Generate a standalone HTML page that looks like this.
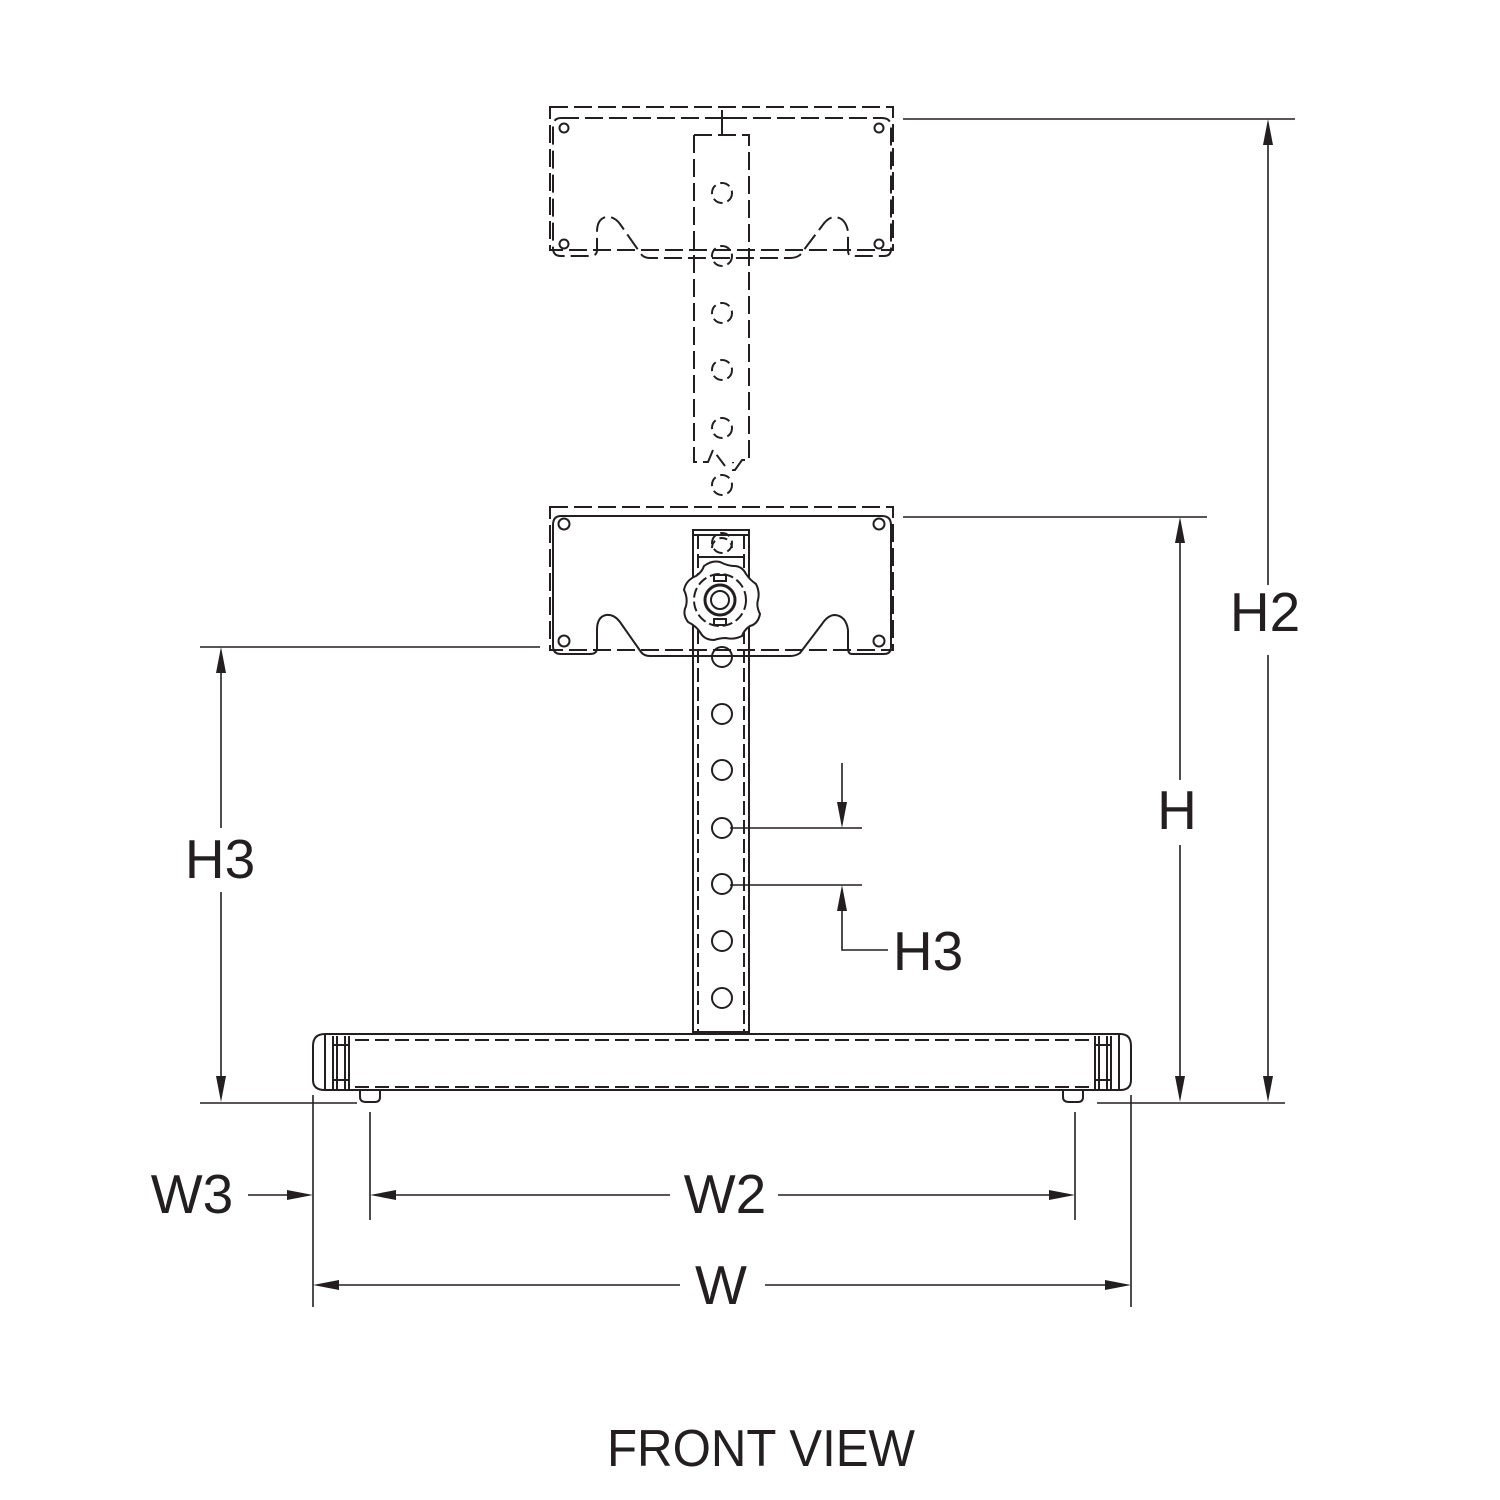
<!DOCTYPE html>
<html><head><meta charset="utf-8"><style>
html,body{margin:0;padding:0;background:#fff;}
svg{display:block;}
text{font-family:"Liberation Sans",sans-serif;fill:#231f20;}
</style></head><body>
<svg width="1500" height="1500" viewBox="0 0 1500 1500" xmlns="http://www.w3.org/2000/svg">
<g fill="none" stroke="#231f20" stroke-width="2">
<g stroke-dasharray="18,6">
<rect x="550" y="107" width="343" height="143"/>
<path d="M561,118 H882 Q891,118 891,127 V249 Q891,256 884,256 H852 Q848,256 848,250 V232 Q846,218 835,217 Q828,217 822,226 L800,255 Q796,258 790,258 H650 Q644,258 641,254 L620,224 Q614,216 606,217 Q597,219 597,232 V250 Q597,256 590,256 H561 Q553,256 553,248 V127 Q553,118 561,118 Z"/>
<path d="M694,135 H749 V460 H742 L735,470 H733 V462 M694,135 V462 H708 L713,450 L725,466"/>
</g>
<g stroke-dasharray="10,5">
<circle cx="722" cy="193" r="10"/><circle cx="722" cy="256" r="10"/><circle cx="722" cy="313" r="10"/><circle cx="722" cy="370" r="10"/><circle cx="722" cy="428" r="10"/><circle cx="722" cy="485" r="10"/><circle cx="722" cy="543" r="10"/>
</g>
<line x1="722" y1="110" x2="722" y2="135"/><line x1="714" y1="118" x2="730" y2="118"/>
<circle cx="564" cy="128" r="4.5"/><circle cx="879" cy="128" r="4.5"/><circle cx="564" cy="244" r="4.5"/><circle cx="879" cy="244" r="4.5"/>

<rect x="550" y="507" width="343" height="143" stroke-dasharray="18,6"/>
<path d="M561,516 H882 Q891,516 891,525 V647 Q891,654 884,654 H852 Q848,654 848,648 V630 Q846,616 835,615 Q828,615 822,624 L800,653 Q796,656 790,656 H650 Q644,656 641,652 L620,622 Q614,614 606,615 Q597,617 597,630 V648 Q597,654 590,654 H561 Q553,654 553,646 V525 Q553,516 561,516 Z"/>
<circle cx="564" cy="524" r="5.5"/><circle cx="879" cy="524" r="5.5"/><circle cx="564" cy="641" r="5.5"/><circle cx="879" cy="641" r="5.5"/>
<rect x="693" y="530" width="56" height="502"/>
<line x1="698" y1="535" x2="698" y2="1032" stroke-dasharray="14,5"/>
<line x1="744" y1="535" x2="744" y2="1032" stroke-dasharray="14,5"/>
<line x1="693" y1="535" x2="749" y2="535"/>
<line x1="698" y1="557" x2="744" y2="557"/>
<path d="M712,548 A10,10 0 1 1 732,548" stroke-dasharray="8,5"/>
<path d="M720,562 Q728,566 734,566 Q742,566 746,574 Q750,580 756,584 Q760,592 758,600 Q756,606 760,614 Q758,624 750,626 Q744,630 742,636 Q734,640 726,638 Q720,638 714,640 Q704,640 700,632 Q696,626 688,622 Q682,614 686,606 Q688,598 684,590 Q686,580 696,576 Q702,572 704,566 Q712,560 720,562 Z" fill="#fff"/>
<circle cx="720" cy="600" r="26" stroke-dasharray="10,4"/>
<circle cx="720" cy="600" r="15" stroke-width="3"/>
<circle cx="720" cy="600" r="9"/>
<rect x="714" y="575" width="12" height="6"/><rect x="714" y="619" width="12" height="6"/>
<g>
<circle cx="722" cy="657" r="10"/><circle cx="722" cy="714" r="10"/><circle cx="722" cy="770" r="10"/><circle cx="722" cy="828" r="10"/><circle cx="722" cy="884" r="10"/><circle cx="722" cy="941" r="10"/><circle cx="722" cy="998" r="10"/>
</g>
<path d="M325,1034 H1120 Q1131,1034 1131,1046 V1080 Q1131,1090 1120,1090 H325 Q313,1090 313,1080 V1046 Q313,1034 325,1034 Z"/>
<line x1="325" y1="1034" x2="325" y2="1090"/><line x1="1119" y1="1034" x2="1119" y2="1090"/>
<line x1="355" y1="1040" x2="1090" y2="1040" stroke-dasharray="14,6"/>
<line x1="355" y1="1087" x2="1090" y2="1087" stroke-dasharray="14,6"/>
<path d="M333,1036 V1090 M337,1036 V1090 M345,1036 V1090 M349,1036 V1090 M333,1045 H349 M333,1080 H349"/>
<path d="M1095,1036 V1090 M1099,1036 V1090 M1107,1036 V1090 M1111,1036 V1090 M1095,1045 H1111 M1095,1080 H1111"/>
<path d="M360,1091 V1097 Q360,1102 366,1102 H375 Q380,1102 380,1097 V1091"/>
<path d="M1063,1091 V1097 Q1063,1102 1069,1102 H1078 Q1083,1102 1083,1097 V1091"/>
</g>
<g stroke="#231f20" stroke-width="1.6" fill="none">
<line x1="200" y1="1103" x2="357" y2="1103"/><line x1="1097" y1="1103" x2="1285" y2="1103"/>
<line x1="200" y1="647" x2="540" y2="647"/>
<line x1="903" y1="517" x2="1207" y2="517"/>
<line x1="903" y1="119" x2="1295" y2="119"/>
<line x1="221" y1="660" x2="221" y2="828"/><line x1="221" y1="892" x2="221" y2="1090"/>
<line x1="1180" y1="530" x2="1180" y2="780"/><line x1="1180" y1="845" x2="1180" y2="1090"/>
<line x1="1268" y1="132" x2="1268" y2="585"/><line x1="1268" y1="655" x2="1268" y2="1090"/>
<line x1="842" y1="763" x2="842" y2="815"/>
<line x1="730" y1="828" x2="862" y2="828"/><line x1="730" y1="885" x2="862" y2="885"/>
<path d="M842,898 V950 H888"/>
<line x1="313" y1="1095" x2="313" y2="1307"/><line x1="1131" y1="1095" x2="1131" y2="1307"/>
<line x1="370" y1="1112" x2="370" y2="1220"/><line x1="1075" y1="1112" x2="1075" y2="1220"/>
<line x1="248" y1="1195" x2="300" y2="1195"/>
<line x1="383" y1="1195" x2="670" y2="1195"/><line x1="778" y1="1195" x2="1062" y2="1195"/>
<line x1="326" y1="1285" x2="680" y2="1285"/><line x1="765" y1="1285" x2="1118" y2="1285"/>
</g>
<g fill="#231f20">
<path d="M221,647 L216,673 L226,673 Z"/><path d="M221,1102 L216,1076 L226,1076 Z"/>
<path d="M1180,517 L1175,543 L1185,543 Z"/><path d="M1180,1102 L1175,1076 L1185,1076 Z"/>
<path d="M1268,119 L1263,145 L1273,145 Z"/><path d="M1268,1102 L1263,1076 L1273,1076 Z"/>
<path d="M842,828 L837,802 L847,802 Z"/><path d="M842,885 L837,911 L847,911 Z"/>
<path d="M313,1195 L287,1190 L287,1200 Z"/>
<path d="M370,1195 L396,1190 L396,1200 Z"/><path d="M1075,1195 L1049,1190 L1049,1200 Z"/>
<path d="M313,1285 L339,1280 L339,1290 Z"/><path d="M1131,1285 L1105,1280 L1105,1290 Z"/>
</g>
<g font-size="55" text-anchor="middle">
<text x="220" y="878">H3</text>
<text x="1177" y="829">H</text>
<text x="1265" y="631">H2</text>
<text x="928" y="970">H3</text>
<text x="192" y="1213">W3</text>
<text x="725" y="1213">W2</text>
<text x="721" y="1304">W</text>
</g>
<text x="607" y="1466" font-size="52" textLength="308" lengthAdjust="spacingAndGlyphs">FRONT VIEW</text>
</svg>
</body></html>
